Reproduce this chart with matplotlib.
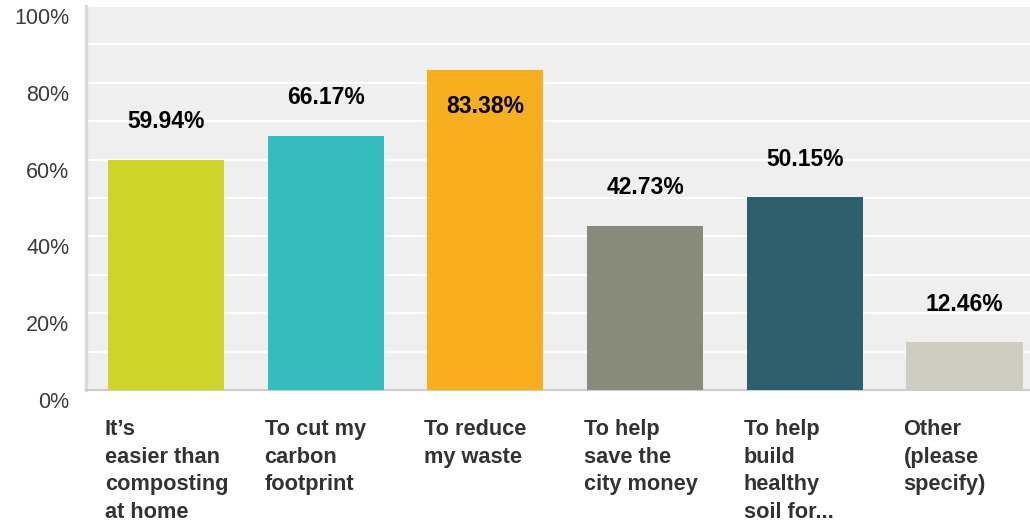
import matplotlib.pyplot as plt
from matplotlib.ticker import MultipleLocator
import matplotlib.transforms as mtransforms

# chart data
categories = ["It\u2019s\neasier than\ncomposting\nat home",
              "To cut my\ncarbon\nfootprint",
              "To reduce\nmy waste",
              "To help\nsave the\ncity money",
              "To help\nbuild\nhealthy\nsoil for...",
              "Other\n(please\nspecify)"]
values = [59.94, 66.17, 83.38, 42.73, 50.15, 12.46]
bar_colors = ["#cfd42a", "#34bdbf", "#f7af1f", "#8a8a7a", "#2d5f6c", "#cfcdbf"]
y_ticks = [0, 20, 40, 60, 80, 100]

plt.rcParams['font.family'] = ['Liberation Sans', 'DejaVu Sans']

fig = plt.figure(figsize=(10.30, 5.23), dpi=100)
ax = fig.add_axes([86 / 1030, 133 / 523, 1 - 86 / 1030, (390 - 6) / 523])
ax.set_facecolor("#efefef")

x = list(range(len(values)))
width = 116 / 159.5
ax.bar(x, values, width=width, color=bar_colors, zorder=3)

ax.set_xlim(-0.5, 5.41)
ax.set_ylim(0, 100)

# white gridlines every 10%
ax.yaxis.set_minor_locator(MultipleLocator(10))
ax.set_yticks(y_ticks)
ax.grid(True, axis='y', which='both', color='white', linewidth=1.5, zorder=1)
ax.set_yticklabels([f"{t}%" for t in y_ticks], fontsize=15.5, color="#3c3c3c")
ax.tick_params(axis='y', which='both', length=0, pad=12)
ax.tick_params(axis='x', length=0, labelbottom=False)

# tick labels sit a bit lower than their gridlines
shift = mtransforms.ScaledTranslation(0, -10 / 100, fig.dpi_scale_trans)
for lbl in ax.get_yticklabels():
    lbl.set_transform(lbl.get_transform() + shift)

for side in ['top', 'right']:
    ax.spines[side].set_visible(False)
ax.spines['left'].set_color("#d9d9d9")
ax.spines['left'].set_linewidth(2.4)
ax.spines['bottom'].set_color("#cccccc")
ax.spines['bottom'].set_linewidth(1.5)

# value labels
for xi, v in zip(x, values):
    if v > 75:
        off = -37
    else:
        off = 38
    ax.annotate(f"{v:.2f}%", (xi, v), xytext=(0, off), textcoords='offset pixels',
                ha='center', va='center', fontsize=16.5, fontweight='bold',
                color='black', zorder=4)

# category labels, left aligned under each bar
for xi, cat in zip(x, categories):
    ax.annotate(cat, (xi - width / 2, 0), xytext=(-3, -29), textcoords='offset pixels',
                ha='left', va='top', fontsize=15.7, fontweight='bold',
                color="#333333", linespacing=1.41, annotation_clip=False)

fig.savefig("out.png", dpi=100)
